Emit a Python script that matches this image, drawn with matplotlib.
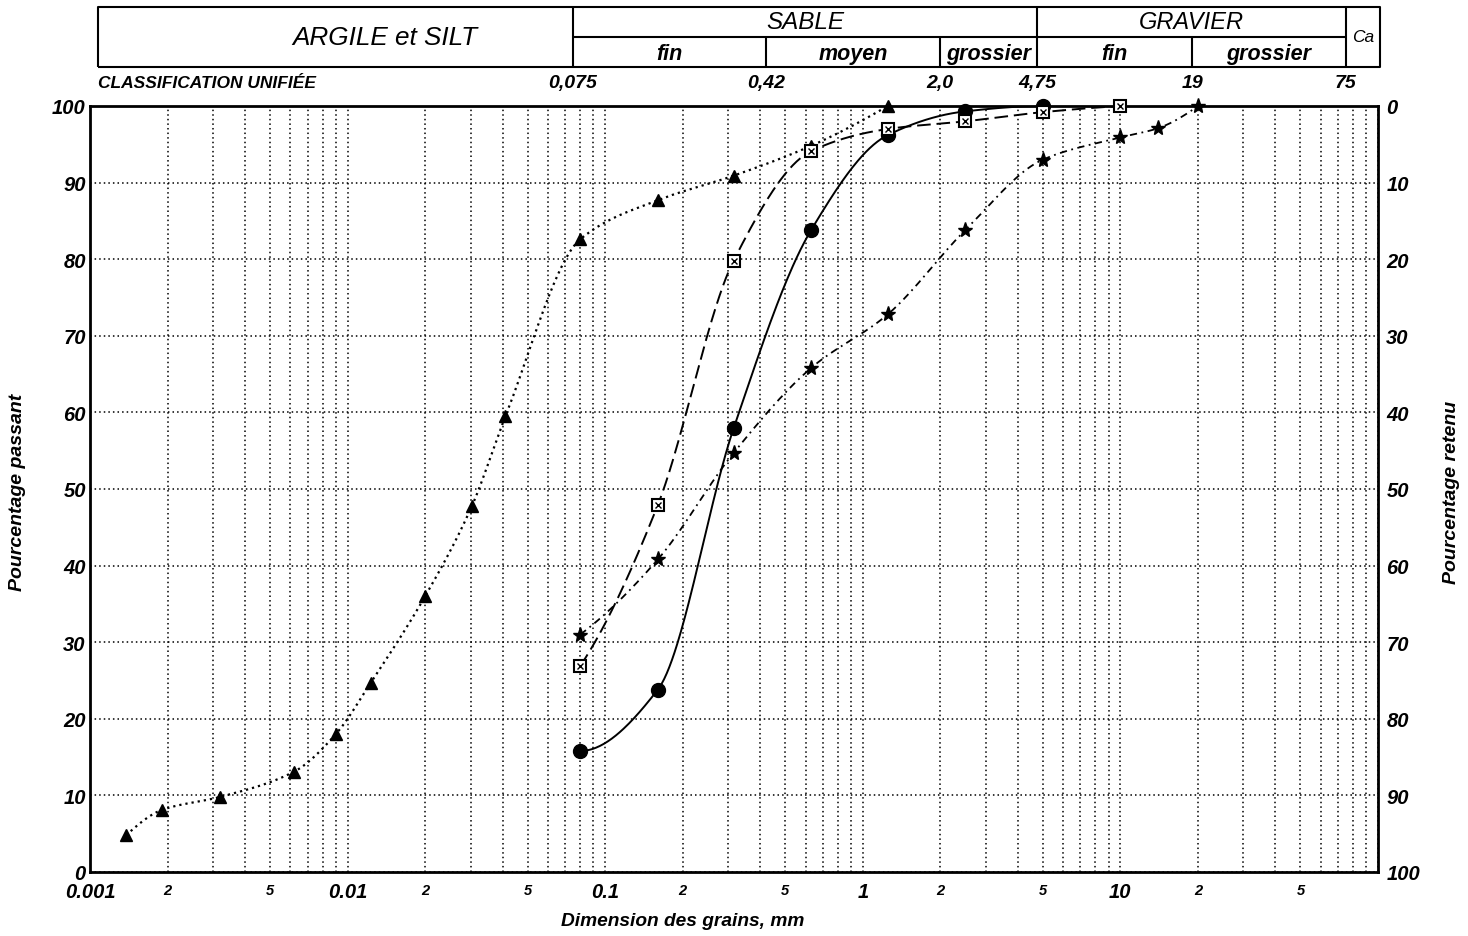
import numpy as np
import matplotlib
matplotlib.use("Agg")
import matplotlib.pyplot as plt
from matplotlib.ticker import FixedLocator, FuncFormatter, LogLocator

plt.rcParams.update({
    "font.family": ["Liberation Sans", "DejaVu Sans"],
    "font.style": "italic", "font.weight": "bold",
    "axes.edgecolor": "black", "text.color": "black",
})

# sieve openings (mm), French series
sieve = [0.08, 0.16, 0.315, 0.63, 1.25, 2.5, 5, 10, 14, 20]

# sample A: hydrometer + sieve (triangles)
tri_x = [0.00138, 0.0019, 0.0032, 0.0062, 0.009, 0.0123, 0.020, 0.0304, 0.041,
         0.08, 0.16, 0.315, 0.63, 1.25]
tri_y = [4.8, 8.1, 9.8, 13.1, 18.0, 24.7, 36.0, 47.8, 59.5, 82.6, 87.7, 90.9, 94.8, 100]
# sample B (circles), C (squares), D (stars) - % passing at sieve[:n]
circ_y = [15.8, 23.8, 57.9, 83.8, 96.2, 99.3, 100]
sq_y = [26.9, 47.9, 79.8, 94.1, 97.0, 98.0, 99.2, 100]
star_y = [31.0, 40.8, 54.7, 65.8, 72.8, 83.8, 93.0, 95.9, 97.1, 100]

# unified classification bounds (mm)
bounds = [0.075, 0.42, 2.0, 4.75, 19, 75]
bound_lbl = ["0,075", "0,42", "2,0", "4,75", "19", "75"]


def smooth(x, y, n=60):
    """monotone cubic (pchip) through the points, in log-x space"""
    lx = np.log10(np.asarray(x, float))
    y = np.asarray(y, float)
    h = np.diff(lx)
    d = np.diff(y) / h
    m = np.zeros_like(y)
    for k in range(1, len(y) - 1):
        if d[k - 1] * d[k] > 0:
            w1 = 2 * h[k] + h[k - 1]
            w2 = h[k] + 2 * h[k - 1]
            m[k] = (w1 + w2) / (w1 / d[k - 1] + w2 / d[k])

    def end(h0, h1, d0, d1):
        s = ((2 * h0 + h1) * d0 - h0 * d1) / (h0 + h1)
        if s * d0 <= 0:
            return 0.0
        if d0 * d1 <= 0 and abs(s) > abs(3 * d0):
            return 3 * d0
        return s

    m[0] = end(h[0], h[1], d[0], d[1])
    m[-1] = end(h[-1], h[-2], d[-1], d[-2])
    xs, ys = [], []
    t = np.linspace(0, 1, n)
    for k in range(len(h)):
        h00 = 2 * t**3 - 3 * t**2 + 1
        h10 = t**3 - 2 * t**2 + t
        h01 = -2 * t**3 + 3 * t**2
        h11 = t**3 - t**2
        ys.append(h00 * y[k] + h10 * h[k] * m[k] + h01 * y[k + 1] + h11 * h[k] * m[k + 1])
        xs.append(lx[k] + t * h[k])
    return 10 ** np.concatenate(xs), np.clip(np.concatenate(ys), 0, 100)


W, H = 1468, 937
fig = plt.figure(figsize=(W / 100, H / 100), dpi=100)
L, R, B, T = 90, 1378, 873, 107
ax = fig.add_axes([L / W, 1 - B / H, (R - L) / W, (B - T) / H])
ax.set_xscale("log")
ax.set_xlim(0.001, 100)
ax.set_ylim(0, 100)

gl = dict(color="black", linestyle=(0, (1, 2)), linewidth=1.1)
ax.xaxis.set_major_locator(FixedLocator([0.001, 0.01, 0.1, 1, 10, 100]))
ax.xaxis.set_minor_locator(LogLocator(base=10, subs=range(2, 10), numticks=20))
ax.xaxis.set_major_formatter(FuncFormatter(lambda v, p: "" if v >= 100 else ("%g" % v)))


def minor_fmt(v, p):
    mant = round(v / 10 ** np.floor(np.log10(v) + 1e-9))
    return str(mant) if mant in (2, 5) else ""


ax.xaxis.set_minor_formatter(FuncFormatter(minor_fmt))
ax.set_yticks(range(0, 101, 10))
ax.grid(True, which="both", axis="x", **gl)
ax.grid(True, which="major", axis="y", **gl)
ax.tick_params(axis="both", which="both", length=0)
ax.tick_params(axis="x", which="major", labelsize=14.5, pad=7)
ax.tick_params(axis="x", which="minor", labelsize=10.5, pad=8)
ax.tick_params(axis="y", labelsize=14.5, pad=3)
for sp in ax.spines.values():
    sp.set_linewidth(2.0)

ax2 = ax.twinx()
ax2.set_ylim(100, 0)
ax2.set_yticks(range(0, 101, 10))
ax2.tick_params(axis="y", length=0, labelsize=14.5, pad=6)
for sp in ax2.spines.values():
    sp.set_visible(False)

# curves
x, y = smooth(tri_x, tri_y)
ax.plot(x, y, color="black", lw=1.6, linestyle=(0, (1, 1.8)))
ax.plot(tri_x, tri_y, "^", color="black", ms=9, clip_on=False, zorder=5)

x, y = smooth(sieve[:len(circ_y)], circ_y)
ax.plot(x, y, color="black", lw=1.4, linestyle="-")
ax.plot(sieve[:len(circ_y)], circ_y, "o", color="black", ms=10, clip_on=False, zorder=5)

x, y = smooth(sieve[:len(sq_y)], sq_y)
ax.plot(x, y, color="black", lw=1.4, linestyle=(0, (7, 3)))
ax.plot(sieve[:len(sq_y)], sq_y, "s", mfc="white", mec="black", mew=1.5, ms=9,
        clip_on=False, zorder=5)
ax.plot(sieve[:len(sq_y)], sq_y, "x", color="black", mew=1.0, ms=4.5, clip_on=False, zorder=6)

x, y = smooth(sieve[:len(star_y)], star_y)
ax.plot(x, y, color="black", lw=1.3, linestyle=(0, (4, 2.5, 1, 2.5)))
ax.plot(sieve[:len(star_y)], star_y, "*", color="black", ms=11, clip_on=False, zorder=5)

fig.text(18 / W, 1 - 492 / H, "Pourcentage passant", rotation=90, ha="center", va="center",
         fontsize=14)
fig.text(1451 / W, 1 - 492 / H, "Pourcentage retenu", rotation=90, ha="center", va="center",
         fontsize=14)
fig.text(683 / W, 1 - 922 / H, "Dimension des grains, mm", ha="center", va="center",
         fontsize=13.8)

# classification header
hx = fig.add_axes([L / W, 1 - 68 / H, (R - L) / W, 60 / H])
hx.set_xscale("log")
hx.set_xlim(0.001, 100)
hx.set_ylim(0, 2)
hx.axis("off")
lk = dict(color="black", lw=1.5, clip_on=False, solid_capstyle="butt")
x0, x1 = 0.00107, 102
hx.plot([x0, x1, x1, x0, x0], [0, 0, 2, 2, 0], **lk)
for b in (bounds[0], bounds[3], bounds[5]):
    hx.plot([b, b], [0, 2], **lk)
for b in (bounds[1], bounds[2], bounds[4]):
    hx.plot([b, b], [0, 1], **lk)
hx.plot([bounds[0], bounds[5]], [1, 1], **lk)


def gm(a, b):
    return np.sqrt(a * b)


hx.text(0.014, 1.0, "ARGILE et SILT", ha="center", va="center", fontsize=18.8,
        fontweight="normal")
hx.text(gm(bounds[0], bounds[3]), 1.5, "SABLE", ha="center", va="center", fontsize=17.5,
        fontweight="normal")
hx.text(gm(bounds[3], bounds[5]), 1.5, "GRAVIER", ha="center", va="center", fontsize=17,
        fontweight="normal")
hx.text(gm(bounds[5], x1), 1.0, "Ca", ha="center", va="center", fontsize=12.5,
        fontweight="normal")
subs = [(bounds[0], bounds[1], "fin"), (bounds[1], bounds[2], "moyen"),
        (bounds[2], bounds[3], "grossier"), (bounds[3], bounds[4], "fin"),
        (bounds[4], bounds[5], "grossier")]
for a, b, s in subs:
    hx.text(gm(a, b), 0.45, s, ha="center", va="center", fontsize=15.5)
hx.text(x0, -0.53, "CLASSIFICATION UNIFIÉE", ha="left", va="center", fontsize=12.5)
for b, s in zip(bounds, bound_lbl):
    hx.text(b, -0.53, s, ha="center", va="center", fontsize=14)

fig.savefig("out.png", dpi=100, facecolor="white")
